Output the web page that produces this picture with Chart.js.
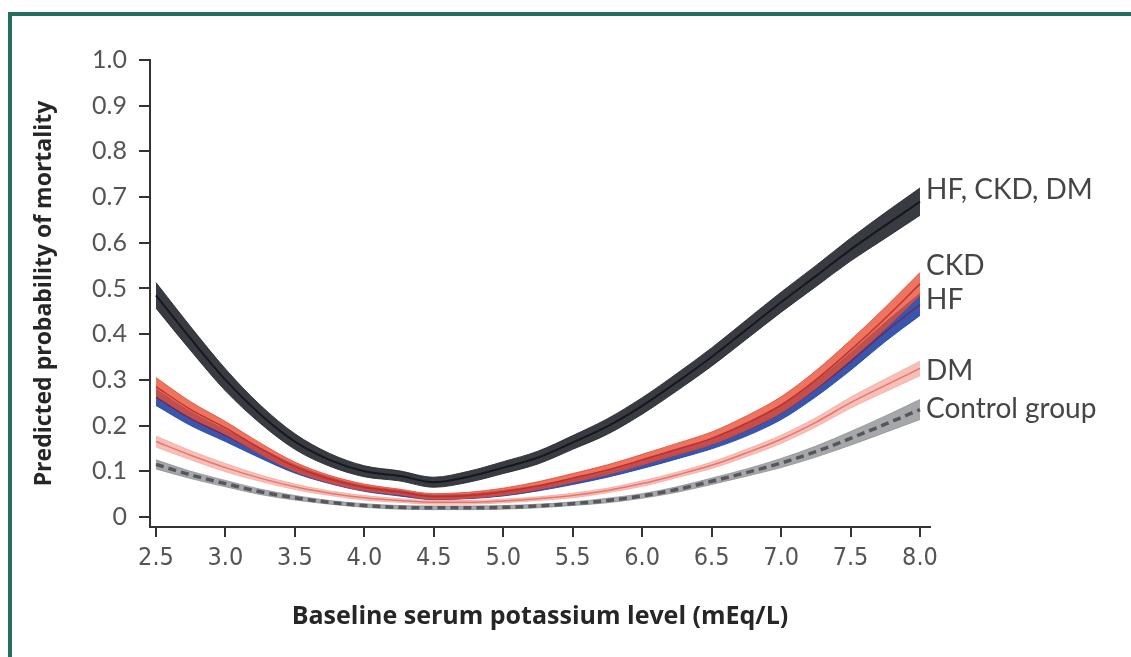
<!DOCTYPE html>
<html>
<head>
<meta charset="utf-8">
<script src="https://cdn.jsdelivr.net/npm/chart.js@4.4.1/dist/chart.umd.min.js"></script>
<style>
    html, body { margin: 0; padding: 0; background: #fff; }
    #wrap { position: relative; width: 1131px; height: 657px; overflow: hidden; background: #fff; }
    #frame { position: absolute; left: 8px; top: 12px; right: 0; bottom: 0;
             border-top: 4px solid #21705e; border-left: 4px solid #21705e; }
    #potChart { position: absolute; left: 0; top: 0; }
</style>
</head>
<body>
<div id="wrap">
    <div id="frame"></div>
    <canvas id="potChart" width="1131" height="657"></canvas>
</div>
<script>
// Serum potassium (mEq/L) sample points
const potassium = [2.5, 2.75, 3.0, 3.25, 3.5, 3.75, 4.0, 4.25, 4.5, 4.75, 5.0, 5.25,
                   5.5, 5.75, 6.0, 6.25, 6.5, 6.75, 7.0, 7.25, 7.5, 7.75, 8.0];

// HF, CKD, DM
const allMid = [0.485, 0.39, 0.30, 0.225, 0.165, 0.125, 0.10, 0.09, 0.076, 0.088, 0.108, 0.13,
                0.163, 0.198, 0.243, 0.295, 0.35, 0.41, 0.47, 0.527, 0.585, 0.638, 0.69];
const allHi  = [0.513, 0.416, 0.324, 0.245, 0.182, 0.139, 0.112, 0.101, 0.087, 0.10, 0.121, 0.144,
                0.178, 0.215, 0.261, 0.314, 0.37, 0.431, 0.492, 0.55, 0.61, 0.666, 0.72];
const allLo  = [0.457, 0.364, 0.276, 0.205, 0.148, 0.111, 0.088, 0.079, 0.065, 0.076, 0.095, 0.116,
                0.148, 0.181, 0.225, 0.276, 0.33, 0.389, 0.448, 0.504, 0.56, 0.61, 0.66];

// CKD
const ckdMid = [0.285, 0.235, 0.195, 0.15, 0.11, 0.083, 0.065, 0.055, 0.045, 0.047, 0.055, 0.068,
                0.085, 0.103, 0.125, 0.148, 0.172, 0.205, 0.245, 0.30, 0.365, 0.435, 0.51];
const ckdHi  = [0.305, 0.252, 0.209, 0.162, 0.12, 0.091, 0.072, 0.061, 0.051, 0.054, 0.063, 0.077,
                0.095, 0.114, 0.137, 0.161, 0.186, 0.221, 0.263, 0.32, 0.387, 0.459, 0.535];
const ckdLo  = [0.265, 0.218, 0.181, 0.138, 0.10, 0.075, 0.058, 0.049, 0.039, 0.041, 0.048, 0.06,
                0.076, 0.093, 0.114, 0.136, 0.159, 0.19, 0.228, 0.281, 0.344, 0.412, 0.485];

// HF
const hfMid = [0.262, 0.215, 0.178, 0.14, 0.105, 0.08, 0.062, 0.052, 0.043, 0.045, 0.052, 0.063,
               0.078, 0.095, 0.115, 0.137, 0.16, 0.19, 0.228, 0.28, 0.34, 0.405, 0.465];
const hfHi  = [0.28, 0.23, 0.191, 0.151, 0.114, 0.087, 0.068, 0.058, 0.048, 0.05, 0.058, 0.069,
               0.085, 0.103, 0.124, 0.147, 0.171, 0.203, 0.243, 0.297, 0.359, 0.426, 0.489];
const hfLo  = [0.244, 0.20, 0.165, 0.129, 0.096, 0.073, 0.056, 0.046, 0.038, 0.04, 0.046, 0.057,
               0.071, 0.087, 0.106, 0.127, 0.149, 0.177, 0.213, 0.263, 0.321, 0.384, 0.441];

// DM
const dmMid = [0.165, 0.135, 0.108, 0.085, 0.066, 0.052, 0.042, 0.036, 0.032, 0.032, 0.035, 0.04,
               0.047, 0.058, 0.073, 0.092, 0.113, 0.14, 0.17, 0.207, 0.25, 0.288, 0.325];
const dmHi  = [0.177, 0.145, 0.117, 0.092, 0.072, 0.057, 0.047, 0.04, 0.036, 0.036, 0.039, 0.044,
               0.052, 0.063, 0.079, 0.098, 0.12, 0.148, 0.179, 0.217, 0.262, 0.302, 0.341];
const dmLo  = [0.153, 0.125, 0.099, 0.078, 0.06, 0.047, 0.037, 0.032, 0.028, 0.028, 0.031, 0.036,
               0.042, 0.053, 0.067, 0.086, 0.106, 0.132, 0.161, 0.197, 0.238, 0.274, 0.309];

// Control group
const ctlMid = [0.115, 0.092, 0.073, 0.055, 0.042, 0.032, 0.025, 0.021, 0.02, 0.02, 0.021, 0.024,
                0.029, 0.036, 0.046, 0.06, 0.078, 0.097, 0.118, 0.143, 0.172, 0.203, 0.235];
const ctlHi  = [0.125, 0.10, 0.08, 0.061, 0.047, 0.036, 0.029, 0.025, 0.024, 0.024, 0.025, 0.028,
                0.033, 0.041, 0.051, 0.066, 0.085, 0.105, 0.128, 0.155, 0.187, 0.221, 0.257];
const ctlLo  = [0.105, 0.084, 0.066, 0.049, 0.037, 0.028, 0.021, 0.017, 0.016, 0.016, 0.017, 0.02,
                0.025, 0.031, 0.041, 0.054, 0.071, 0.089, 0.108, 0.131, 0.157, 0.185, 0.213];

// Right-hand labels and the y value each one sits at
const seriesNames = ['HF, CKD, DM', 'CKD', 'HF', 'DM', 'Control group'];
const labelY = [0.715, 0.55, 0.475, 0.32, 0.237];

const xTicks = [2.5, 3.0, 3.5, 4.0, 4.5, 5.0, 5.5, 6.0, 6.5, 7.0, 7.5, 8.0];
const yTicks = [0, 0.1, 0.2, 0.3, 0.4, 0.5, 0.6, 0.7, 0.8, 0.9, 1.0];

const pts = arr => arr.map((v, i) => ({ x: potassium[i], y: v }));

// one band = upper edge filled down to the lower edge, plus a centre line
function band(hi, lo, mid, fillCol, edgeCol, lineCol, lineW, dash) {
    return [
        { data: pts(mid), borderColor: lineCol, borderWidth: lineW, borderDash: dash || [], fill: false },
        { data: pts(hi), borderColor: edgeCol, borderWidth: 1, backgroundColor: fillCol, fill: '+1' },
        { data: pts(lo), borderColor: edgeCol, borderWidth: 1, fill: false }
    ];
}

const datasets = [].concat(
    band(allHi, allLo, allMid, 'rgba(40,42,50,0.92)', 'rgba(40,42,50,0.9)', '#17181c', 2),
    band(ckdHi, ckdLo, ckdMid, 'rgba(232,78,50,0.78)', 'rgba(225,70,50,0.8)', 'rgba(190,40,45,0.9)', 1.5),
    band(hfHi, hfLo, hfMid, 'rgba(36,68,165,0.9)', 'rgba(36,68,165,0.9)', 'rgba(120,30,70,0.8)', 1.5),
    band(dmHi, dmLo, dmMid, 'rgba(245,170,160,0.75)', 'rgba(240,160,150,0.7)', 'rgba(228,115,105,0.95)', 1.5),
    band(ctlHi, ctlLo, ctlMid, 'rgba(135,137,142,0.75)', 'rgba(135,137,142,0.7)', '#55575c', 3.5, [8, 5])
);

const endLabels = {
    id: 'endLabels',
    afterDatasetsDraw(chart) {
        const { ctx, scales: { x, y } } = chart;
        ctx.save();
        ctx.font = '28px Lato';
        ctx.fillStyle = '#454545';
        ctx.textBaseline = 'middle';
        ctx.textAlign = 'left';
        seriesNames.forEach((name, i) => {
            ctx.fillText(name, x.getPixelForValue(8.0) + 6, y.getPixelForValue(labelY[i]));
        });
        ctx.restore();
    }
};

new Chart(document.getElementById('potChart').getContext('2d'), {
    type: 'line',
    data: { datasets: datasets },
    options: {
        responsive: false,
        animation: false,
        layout: { padding: { top: 60, right: 201, bottom: 0, left: 0 } },
        elements: {
            point: { radius: 0 },
            line: { cubicInterpolationMode: 'monotone' }
        },
        plugins: { legend: { display: false }, tooltip: { enabled: false } },
        scales: {
            x: {
                type: 'linear',
                min: 2.457,
                max: 8.072,
                afterBuildTicks: s => { s.ticks = xTicks.map(v => ({ value: v })); },
                afterFit: s => { s.height = 130; },
                grid: { drawOnChartArea: false, drawTicks: true, tickLength: 10, color: '#333', lineWidth: 2 },
                border: { display: true, color: '#333', width: 2 },
                ticks: {
                    padding: 6,
                    color: '#555',
                    font: { family: '"Liberation Sans Narrow", "DejaVu Sans Condensed", sans-serif', size: 25 },
                    maxRotation: 0,
                    callback: v => v.toFixed(1)
                },
                title: {
                    display: true,
                    text: 'Baseline serum potassium level (mEq/L)',
                    color: '#262626',
                    font: { family: '"Open Sans"', size: 25, weight: 'bold' },
                    padding: { top: 0, bottom: 25 }
                }
            },
            y: {
                type: 'linear',
                min: -0.022,
                max: 1.0,
                afterBuildTicks: s => { s.ticks = yTicks.map(v => ({ value: v })); },
                afterFit: s => { s.width = 150; },
                grid: { drawOnChartArea: false, drawTicks: true, tickLength: 11, color: '#333', lineWidth: 2 },
                border: { display: true, color: '#333', width: 2 },
                ticks: {
                    padding: 12,
                    color: '#555',
                    font: { family: 'Lato', size: 25 },
                    callback: v => (v === 0 ? '0' : v.toFixed(1))
                },
                title: {
                    display: true,
                    text: 'Predicted probability of mortality',
                    color: '#262626',
                    font: { family: '"Open Sans"', size: 23, weight: 'bold' },
                    padding: { top: 31, bottom: 0 }
                }
            }
        }
    },
    plugins: [endLabels]
});
</script>
</body>
</html>
